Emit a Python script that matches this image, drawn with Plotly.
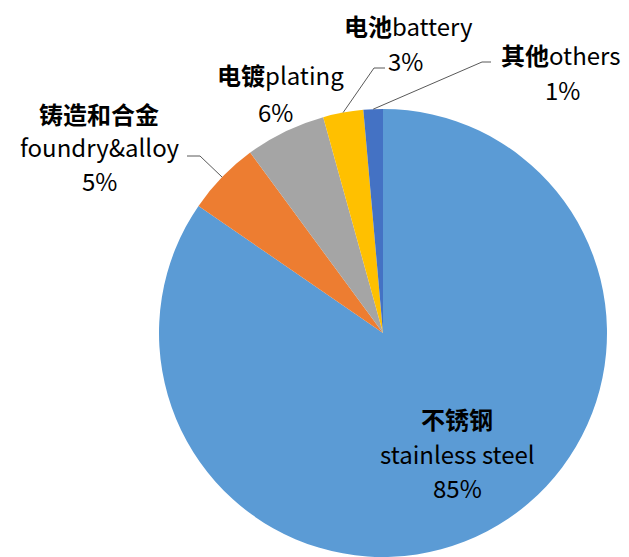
import math
import plotly.graph_objects as go

W, H = 629, 557

# ---- data ----
labels_cn = ["不锈钢", "铸造和合金", "电镀", "电池", "其他"]
labels_en = ["stainless steel", "foundry&alloy", "plating", "battery", "others"]
values = [84.6, 5.3, 5.8, 2.9, 1.4]
colors = ["#5B9BD5", "#ED7D31", "#A5A5A5", "#FFC000", "#4472C4"]

# ---- geometry (pixels) ----
cx, cy, R = 383, 333, 224

def px(x):
    return x / W

def py(y):
    return 1 - y / H

total = sum(values)
pcts = [round(v / total * 100) for v in values]

# mid-angle arc points of each slice (clockwise from 12 o'clock)
mids = []
cum = 0
for v in values:
    a = (cum + v / 2) / total * 2 * math.pi
    mids.append((cx + R * math.sin(a), cy - R * math.cos(a)))
    cum += v

fig = go.Figure(go.Pie(
    labels=[c + e for c, e in zip(labels_cn, labels_en)],
    values=values,
    sort=False,
    direction="clockwise",
    rotation=0,
    marker=dict(colors=colors, line=dict(width=0)),
    textinfo="none",
    hoverinfo="label+percent",
    showlegend=False,
    domain=dict(x=[px(cx - R), px(cx + R)], y=[py(cy + R), py(cy - R)]),
))

FONT = dict(family="Noto Sans CJK SC", size=24, color="#000000")

def txt(x, y, s):
    fig.add_annotation(x=px(x), y=py(y), xref="paper", yref="paper", text=s,
                       showarrow=False, xanchor="center", yanchor="middle", font=FONT)

def cn(s):
    return f"<b>{s}</b>"

# stainless steel (inside)
txt(457, 418, cn(labels_cn[0]))
txt(457, 453, labels_en[0])
txt(457, 487, f"{pcts[0]}%")
# foundry & alloy
txt(99, 113, cn(labels_cn[1]))
txt(100, 147, labels_en[1])
txt(99, 180, f"{pcts[1]}%")
# plating
txt(280, 75, cn(labels_cn[2]) + labels_en[2])
txt(275, 111, f"{pcts[2]}%")
# battery
txt(408, 25, cn(labels_cn[3]) + labels_en[3])
txt(405, 61, f"{pcts[3]}%")
# others
txt(560, 54, cn(labels_cn[4]) + labels_en[4])
txt(562, 90, f"{pcts[4]}%")

# leader lines
def leader(start, elbow, end):
    path = (f"M {px(start[0])} {py(start[1])} L {px(elbow[0])} {py(elbow[1])} "
            f"L {px(end[0])} {py(end[1])}")
    fig.add_shape(type="path", path=path, xref="paper", yref="paper",
                  line=dict(color="#595959", width=1))

leader(mids[1], (200, 156), (187, 156))
leader(mids[3], (374, 68), (385, 68))
leader(mids[4], (482, 62), (491, 62))

fig.update_layout(
    width=W, height=H,
    margin=dict(l=0, r=0, t=0, b=0),
    paper_bgcolor="white",
    plot_bgcolor="white",
)

fig.write_html("out.html", config={"displayModeBar": False},
               post_script="document.body.style.margin='0';")
